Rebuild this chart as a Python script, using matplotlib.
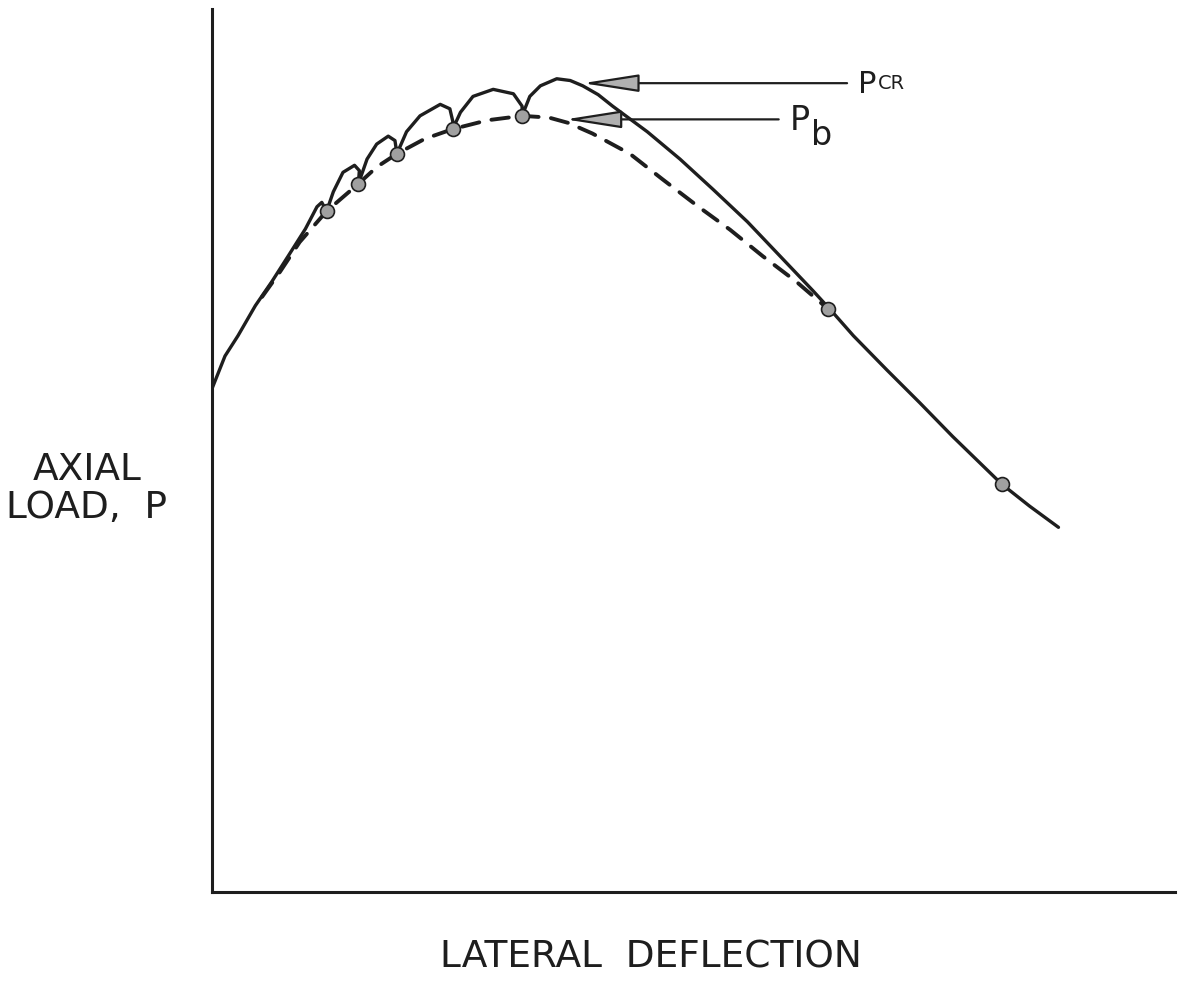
import numpy as np
from matplotlib import pyplot as plt

# solid load-deflection curve (with the snap-through hops)
solid_x = [0.0, 1.35, 2.7, 4.5, 6.2, 7.9, 9.7, 10.9, 11.4, 11.9,
           12.6, 13.6, 14.8, 15.3, 15.2,
           16.1, 17.1, 18.3, 19.0, 19.2,
           20.2, 21.6, 23.7, 24.7, 25.0, 25.0,
           25.8, 27.1, 29.2, 31.3, 32.2, 32.2,
           33.0, 34.1, 35.8, 37.2, 38.5, 40.1, 41.6, 45.2, 48.6, 52.0, 55.6,
           59.0, 62.4, 64.5, 66.6, 70.1, 73.5, 76.9, 82.0, 84.9, 87.9]
solid_y = [57.0, 60.7, 63.0, 66.4, 69.1, 72.0, 75.1, 77.6, 78.1, 77.1,
           79.3, 81.5, 82.3, 81.7, 80.2,
           83.0, 84.7, 85.6, 85.1, 83.6,
           86.1, 87.9, 89.2, 88.7, 87.3, 86.4,
           88.3, 90.1, 90.9, 90.4, 89.0, 87.9,
           90.1, 91.3, 92.1, 91.9, 91.3, 90.3, 89.0, 86.1, 83.0, 79.6, 75.9,
           72.0, 68.1, 65.6, 63.0, 59.1, 55.4, 51.6, 46.2, 43.7, 41.3]

# dashed envelope curve (P_b)
dash_x = [5.2, 7.1, 9.1, 11.9, 13.6, 15.2, 17.1, 19.2, 22.1, 25.0, 28.6,
          32.2, 35.0, 37.0, 39.5, 43.4, 46.8, 50.4, 53.8, 57.2, 60.7, 64.0]
dash_y = [67.4, 70.3, 73.6, 77.1, 78.7, 80.2, 82.1, 83.6, 85.3, 86.4, 87.4,
          87.9, 87.7, 87.1, 85.9, 83.6, 80.7, 77.7, 75.0, 72.0, 69.1, 66.0]

# circled points
node_x = [11.9, 15.2, 19.2, 25.0, 32.2, 64.0, 82.0]
node_y = [77.1, 80.2, 83.6, 86.4, 87.9, 66.0, 46.2]

# label arrows: tip and text position
pcr_tip = (38.5, 91.6)
pcr_txt = (67.1, 91.6)
pb_tip = (36.7, 87.5)
pb_txt = (60.0, 87.5)

ink = '#1e1e1e'

fig = plt.figure(figsize=(11.78, 9.95), dpi=100)
ax = fig.add_axes([212 / 1178, 102 / 995, 963 / 1178, 883 / 995])
ax.set_xlim(0, 100)
ax.set_ylim(0, 100)

ax.plot(solid_x, solid_y, color=ink, lw=2.4, solid_joinstyle='round',
        solid_capstyle='round', zorder=3)
ax.plot(dash_x, dash_y, color=ink, lw=2.8, dashes=(4.5, 3.2),
        dash_capstyle='round', zorder=3)
ax.plot(node_x, node_y, 'o', ms=10, mfc='#a0a0a0', mec=ink, mew=1.2, zorder=4)

arrow_style = '-|>,head_length=3.5,head_width=0.55'
p1 = ax.annotate('P', xy=pcr_tip, xytext=pcr_txt, fontsize=22, color=ink,
                 ha='left', va='center',
                 arrowprops=dict(arrowstyle=arrow_style, mutation_scale=10,
                                 fc='#b0b0b0', ec=ink, lw=1.6,
                                 shrinkA=6, shrinkB=0))
ax.annotate('CR', xy=(1, 0), xycoords=p1, xytext=(1, 4),
            textcoords='offset points', fontsize=14, color=ink,
            ha='left', va='bottom')

p2 = ax.annotate('P', xy=pb_tip, xytext=pb_txt, fontsize=24, color=ink,
                 ha='left', va='center',
                 arrowprops=dict(arrowstyle=arrow_style, mutation_scale=10,
                                 fc='#b0b0b0', ec=ink, lw=1.6,
                                 shrinkA=6, shrinkB=0))
ax.annotate('b', xy=(1, 0), xycoords=p2, xytext=(1, -11),
            textcoords='offset points', fontsize=24, color=ink,
            ha='left', va='bottom')

for s in ['top', 'right']:
    ax.spines[s].set_visible(False)
for s in ['left', 'bottom']:
    ax.spines[s].set_linewidth(2.2)
    ax.spines[s].set_color(ink)
ax.set_xticks([])
ax.set_yticks([])

fig.text(87 / 1178, 1 - 489 / 995, 'AXIAL\nLOAD,  P', fontsize=27, color=ink,
         ha='center', va='center', multialignment='center', linespacing=1.1)
fig.text(651 / 1178, 1 - 958 / 995, 'LATERAL  DEFLECTION', fontsize=27,
         color=ink, ha='center', va='center')

fig.savefig('out.png', dpi=100, facecolor='white')
